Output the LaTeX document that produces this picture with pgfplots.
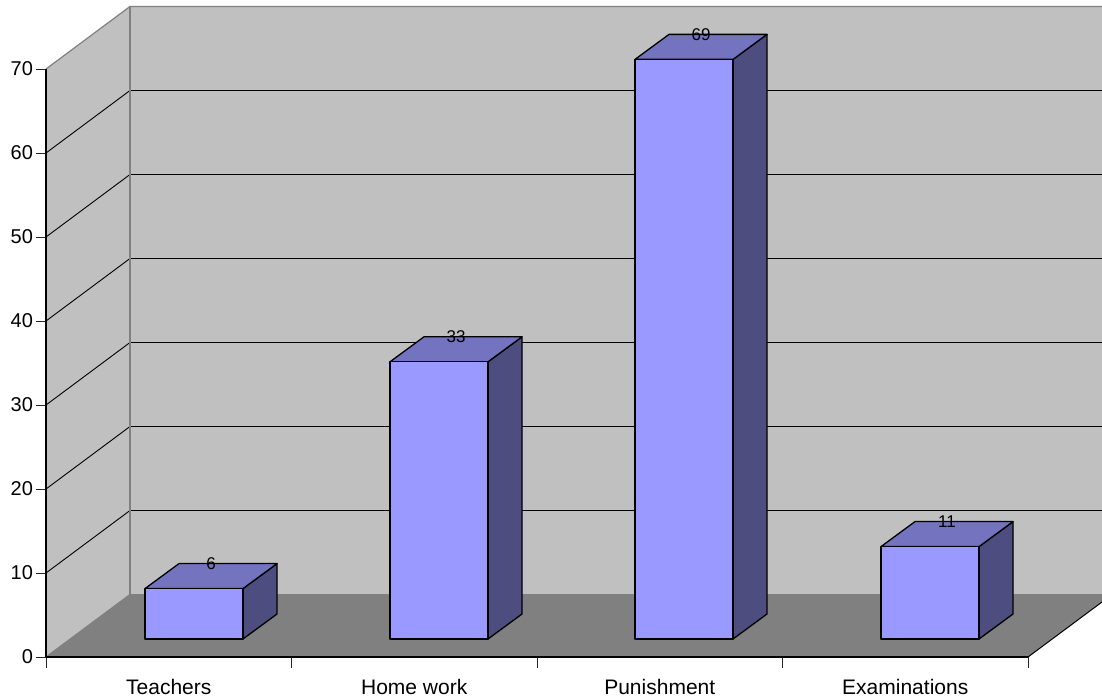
\documentclass[border=0pt]{standalone}
\usepackage{fontspec}
\setmainfont{Liberation Sans}
\usepackage{pgfplots}
\usepackage{pgfplotstable}
\pgfplotsset{compat=1.18}

\definecolor{wallgrey}{HTML}{C0C0C0}
\definecolor{floorgrey}{HTML}{808080}
\definecolor{barfront}{HTML}{9999FF}
\definecolor{bartop}{HTML}{7373BF}
\definecolor{barside}{HTML}{4D4D80}

% Bar values: left edge of the front face, value
\pgfplotstableread{
left value
145  6
390  33
635  69
881  11
}\barvalues

% Oblique depth of the bars: 34 across, 25 up (2.976 in value units).
% Bars stand 2.143 value units above the front floor edge.
\newcommand{\threedbar}[2]{%
  \pgfmathsetmacro{\xl}{#1}%
  \pgfmathsetmacro{\xr}{#1+98}%
  \pgfmathsetmacro{\xlb}{#1+34}%
  \pgfmathsetmacro{\xrb}{#1+132}%
  \pgfmathsetmacro{\yb}{2.143}%
  \pgfmathsetmacro{\yt}{2.143+#2}%
  \pgfmathsetmacro{\ybb}{2.143+2.976}%
  \pgfmathsetmacro{\ytb}{2.143+2.976+#2}%
  \addplot[draw=black, line width=1.3pt, line join=round, fill=barside]
    coordinates {(\xr,\yb) (\xrb,\ybb) (\xrb,\ytb) (\xr,\yt)} -- cycle;
  \addplot[draw=black, line width=1.3pt, line join=round, fill=bartop]
    coordinates {(\xl,\yt) (\xlb,\ytb) (\xrb,\ytb) (\xr,\yt)} -- cycle;
  \addplot[draw=black, line width=1.3pt, line join=round, fill=barfront]
    coordinates {(\xl,\yb) (\xr,\yb) (\xr,\yt) (\xl,\yt)} -- cycle;
}

\begin{document}
\begin{tikzpicture}
\path[use as bounding box] (-46pt,-41pt) rectangle (1056pt,657pt);
\begin{axis}[
  at={(0pt,0pt)}, anchor=south west,
  scale only axis, width=982pt, height=588pt,
  xmin=46, xmax=1028, ymin=0, ymax=70,
  clip=false, axis on top,
  axis x line*=bottom, axis y line*=left,
  axis line style={line width=1.1pt, black},
  tick align=outside, major tick length=10.5pt,
  tick style={line width=0.9pt, black!85},
  xtick={46,291.5,537,782.5,1028},
  x tick label as interval,
  xticklabels={Teachers,Home work,Punishment,Examinations},
  ytick={0,10,20,30,40,50,60,70},
  xticklabel style={font=\fontsize{21}{24}\selectfont, black, yshift=-8pt},
  yticklabel style={font=\fontsize{20}{24}\selectfont, black, xshift=1pt},
  /pgf/number format/assume math mode=true,
]
% Side wall, back wall and floor
\addplot[fill=wallgrey, draw=none] coordinates {(46,0) (130,7.44) (130,77.44) (46,70)} -- cycle;
\addplot[fill=wallgrey, draw=none] coordinates {(130,7.44) (1102,7.44) (1102,77.44) (130,77.44)} -- cycle;
\addplot[fill=floorgrey, draw=none] coordinates {(46,0) (130,7.44) (1102,7.44) (1102,6.55) (1028,0)} -- cycle;

% Grid lines running along the side wall and across the back wall
\addplot[black, line width=0.9pt] coordinates {(46,10) (130,17.44) (1102,17.44)};
\addplot[black, line width=0.9pt] coordinates {(46,20) (130,27.44) (1102,27.44)};
\addplot[black, line width=0.9pt] coordinates {(46,30) (130,37.44) (1102,37.44)};
\addplot[black, line width=0.9pt] coordinates {(46,40) (130,47.44) (1102,47.44)};
\addplot[black, line width=0.9pt] coordinates {(46,50) (130,57.44) (1102,57.44)};
\addplot[black, line width=0.9pt] coordinates {(46,60) (130,67.44) (1102,67.44)};

% Wall outlines
\addplot[floorgrey, line width=1.2pt] coordinates {(46,70) (130,77.44) (1102,77.44)};
\addplot[floorgrey, line width=1.2pt] coordinates {(130,77.44) (130,7.44) (1102,7.44)};
\addplot[floorgrey, line width=1.2pt] coordinates {(46,0) (130,7.44)};
\addplot[black, line width=1pt] coordinates {(1028,0) (1102,6.55)};

% Bars
\threedbar{145}{6}
\threedbar{390}{33}
\threedbar{635}{69}
\threedbar{881}{11}

% Value labels sit on the back edge of each bar's top face
\addplot[draw=none, mark=none,
  nodes near coords, point meta=explicit,
  every node near coord/.style={anchor=center, font=\fontsize{17}{19}\selectfont, text=black, /pgf/number format/assume math mode=true}]
  table[x expr=\thisrow{left}+66, y expr=\thisrow{value}+5.119, meta=value] {\barvalues};
\end{axis}
\end{tikzpicture}
\end{document}
